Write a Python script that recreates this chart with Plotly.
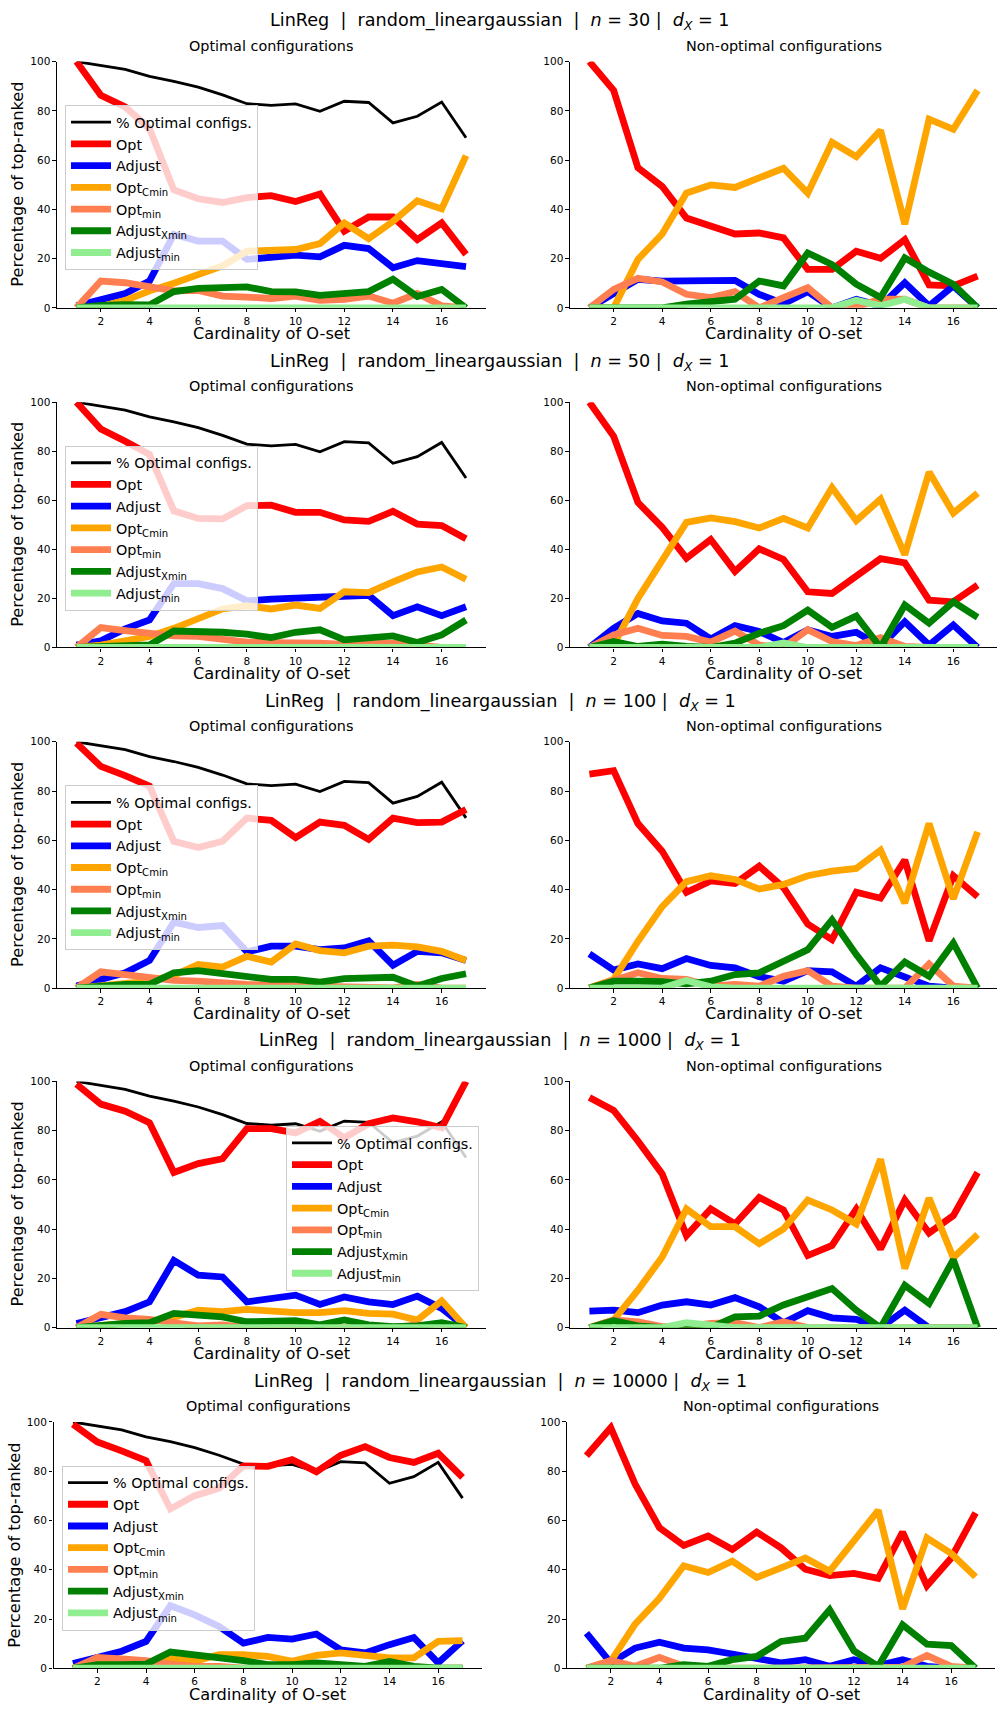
import plotly.graph_objects as go

# ---------------------------------------------------------------------------
# Data: percentage of top-ranked configurations per O-set cardinality
# ---------------------------------------------------------------------------
cardinality = list(range(1, 18))

pct_optimal_configs = [100, 98.4, 96.8, 94.0, 92.0, 89.6, 86.5, 82.9, 82.2,
                       82.8, 79.8, 83.9, 83.4, 75.1, 77.8, 83.6, 69.1]

sample_sizes = ["30", "50", "100", "1000", "10000"]

series_labels = ["Opt", "Adjust", "Opt<sub>Cmin</sub>", "Opt<sub>min</sub>",
                 "Adjust<sub>Xmin</sub>", "Adjust<sub>min</sub>"]
series_colors = ["#ff0000", "#0000ff", "#ffa500", "#ff7f50", "#008000", "#90ee90"]

# n = 30
n30_optimal_opt = [100, 86.3, 81.6, 72.8, 47.9, 44.3, 42.8, 44.8, 45.6, 43.2, 46.2, 31.1, 36.9, 36.9, 27.7, 34.5, 21.7]
n30_optimal_adjust = [0.8, 3.1, 5.8, 10.9, 29.8, 27.1, 27.1, 19.7, 20.7, 21.4, 20.7, 25.4, 24.1, 16.3, 19.2, 18.0, 16.7]
n30_optimal_optcmin = [0, 0.5, 3.0, 6.9, 10.0, 13.3, 17.0, 23.0, 23.3, 23.7, 26.1, 34.5, 28.1, 35.1, 43.5, 40.2, 61.8]
n30_optimal_optmin = [0, 10.9, 10.2, 8.2, 6.9, 7.1, 4.8, 4.4, 3.8, 4.8, 3.1, 3.5, 4.8, 1.9, 5.8, 0.8, 0]
n30_optimal_adjxmin = [0, 1.0, 1.3, 1.2, 6.6, 7.9, 8.2, 8.5, 6.6, 6.5, 5.1, 5.8, 6.6, 11.6, 4.6, 7.5, 0]
n30_optimal_adjmin = [0, 0, 0, 0, 0, 0, 0, 0, 0, 0, 0, 0.5, 0, 0, 0, 0, 0]

n30_nonopt_opt = [100, 88.3, 56.9, 49.3, 36.5, 33.1, 30.0, 30.4, 28.4, 15.6, 15.6, 23.0, 20.1, 27.7, 9.3, 8.9, 12.9]
n30_nonopt_adjust = [0, 5.5, 11.6, 10.9, 10.9, 11.3, 11.2, 5.5, 1.7, 6.6, 0, 3.5, 0.8, 10.2, 0.8, 8.9, 0]
n30_nonopt_optcmin = [0, 0, 19.7, 30.0, 46.6, 49.9, 48.9, 52.9, 56.7, 46.6, 67.2, 61.4, 72.1, 34.0, 76.6, 72.5, 88.3]
n30_nonopt_optmin = [0, 7.5, 12.0, 10.5, 5.5, 4.2, 6.6, 0, 4.2, 8.2, 0, 0.5, 3.5, 3.5, 0, 0, 0]
n30_nonopt_adjxmin = [0, 0, 0, 0, 1.5, 2.5, 3.5, 10.9, 8.9, 22.3, 17.6, 9.6, 4.2, 20.3, 14.5, 9.6, 0]
n30_nonopt_adjmin = [0, 0, 0, 0, 0, 0, 0, 0, 0, 0, 0, 3.1, 0.8, 3.5, 0, 0, 0]

# n = 50
n50_optimal_opt = [100, 89.1, 84.1, 78.7, 55.7, 52.6, 52.4, 57.8, 58.0, 55.1, 55.1, 52.0, 51.4, 55.5, 50.3, 49.7, 44.3]
n50_optimal_adjust = [1.0, 2.7, 7.6, 11.2, 26.0, 26.0, 24.0, 19.0, 19.7, 20.0, 20.6, 21.3, 21.3, 13.0, 16.6, 13.0, 16.6]
n50_optimal_optcmin = [0, 1.0, 2.7, 4.5, 7.8, 11.6, 15.7, 17.0, 15.7, 17.3, 15.9, 22.7, 22.4, 26.7, 30.8, 32.8, 27.8]
n50_optimal_optmin = [0, 8.1, 6.9, 5.8, 4.7, 4.5, 3.1, 2.2, 2.0, 2.0, 1.8, 1.3, 1.3, 1.8, 1.0, 0, 0]
n50_optimal_adjxmin = [0, 0.5, 1.0, 1.0, 6.7, 6.7, 6.2, 5.4, 4.0, 6.2, 7.2, 3.1, 4.0, 4.7, 2.0, 5.1, 11.2]
n50_optimal_adjmin = [0, 0, 0, 0, 0, 0, 0, 0, 0, 0, 0, 0, 0, 0, 0, 0, 0]

n50_nonopt_opt = [100, 86.1, 59.1, 49.0, 36.4, 44.0, 31.0, 40.2, 35.9, 22.7, 22.0, 29.4, 36.2, 34.5, 19.3, 18.6, 25.4]
n50_nonopt_adjust = [0, 7.8, 13.9, 10.8, 9.9, 3.5, 8.9, 6.5, 2.0, 7.2, 4.5, 6.2, 0.4, 10.5, 1.0, 9.2, 0]
n50_nonopt_optcmin = [0, 1.0, 20.0, 35.5, 51.0, 52.8, 51.3, 48.7, 52.6, 48.7, 65.2, 51.7, 60.5, 37.8, 71.5, 54.8, 62.9]
n50_nonopt_optmin = [0, 5.1, 7.8, 4.9, 4.5, 2.2, 6.7, 1.0, 0, 7.2, 2.4, 0.8, 4.0, 0.4, 0, 0, 0]
n50_nonopt_adjxmin = [0, 2.4, 0.4, 1.3, 0.4, 0, 1.8, 5.8, 8.9, 15.2, 8.2, 12.8, 0, 17.3, 9.9, 18.6, 12.3]
n50_nonopt_adjmin = [0, 0, 0, 0, 0, 0, 0, 0, 1.8, 0, 0, 0, 0, 0, 0, 0, 0]

# n = 100
n100_optimal_opt = [99.5, 90.0, 86.3, 82.0, 59.6, 57.1, 59.6, 69.0, 68.1, 61.1, 67.4, 66.1, 60.4, 69.0, 67.2, 67.4, 72.5]
n100_optimal_adjust = [0.8, 3.5, 6.2, 11.2, 26.8, 24.6, 25.4, 14.7, 17.0, 17.0, 15.6, 16.3, 19.2, 9.3, 14.9, 14.3, 11.2]
n100_optimal_optcmin = [0, 0.8, 1.5, 2.8, 5.2, 9.6, 8.5, 12.9, 10.6, 17.9, 15.2, 14.3, 17.0, 17.4, 16.7, 14.9, 11.2]
n100_optimal_optmin = [0, 6.6, 5.5, 4.2, 3.1, 2.8, 1.9, 1.5, 1.2, 1.1, 0.4, 0.4, 0.4, 0.1, 1.5, 0, 0]
n100_optimal_adjxmin = [0, 0.8, 1.5, 1.5, 6.2, 7.1, 5.8, 4.2, 3.5, 3.5, 2.4, 3.8, 3.9, 4.4, 0.8, 3.9, 5.8]
n100_optimal_adjmin = [0, 0, 0, 0, 0, 0, 0, 0, 0, 0, 0, 0, 0, 0, 0, 0, 0]

n100_nonopt_opt = [86.9, 88.3, 66.8, 55.6, 38.9, 43.5, 42.5, 49.5, 40.8, 26.0, 19.7, 38.9, 36.5, 52.0, 19.2, 45.6, 37.1]
n100_nonopt_adjust = [13.9, 7.3, 9.8, 7.9, 12.0, 9.2, 8.2, 4.6, 2.8, 7.1, 6.6, 0.8, 8.2, 4.2, 0.8, 0, 0]
n100_nonopt_optcmin = [0, 3.5, 19.0, 33.1, 43.2, 45.6, 44.1, 40.2, 42.1, 45.6, 47.5, 48.6, 56.0, 34.5, 66.8, 36.2, 63.4]
n100_nonopt_optmin = [0, 2.8, 6.2, 3.9, 3.5, 0.8, 1.5, 0.8, 4.8, 7.1, 0.8, 0, 0, 0, 9.8, 0.8, 0]
n100_nonopt_adjxmin = [0, 2.8, 2.8, 2.6, 1.7, 2.8, 5.5, 6.2, 10.9, 15.6, 27.7, 13.6, 0.8, 10.6, 4.8, 18.3, 0]
n100_nonopt_adjmin = [0, 0, 0, 0, 3.1, 0.5, 0, 0, 0, 0, 0, 0, 0, 0, 0, 0, 0]

# n = 1000
n1000_optimal_opt = [98.9, 90.8, 87.9, 83.2, 63.0, 66.6, 68.6, 80.8, 80.8, 79.1, 83.8, 77.1, 82.8, 85.2, 83.6, 81.2, 100]
n1000_optimal_adjust = [1.7, 4.0, 6.5, 10.5, 27.3, 21.3, 20.6, 10.5, 11.8, 13.2, 9.4, 12.5, 10.5, 9.4, 12.8, 7.8, 0]
n1000_optimal_optcmin = [0, 1.1, 1.7, 2.4, 4.2, 7.1, 6.5, 7.4, 6.5, 6.1, 6.1, 6.9, 5.8, 5.5, 3.1, 10.9, 0]
n1000_optimal_optmin = [0, 5.4, 4.0, 3.4, 2.0, 0.7, 1.1, 0, 0, 0, 0, 0, 0, 0, 1.1, 0, 0]
n1000_optimal_adjxmin = [0, 1.1, 1.7, 2.0, 5.8, 5.1, 4.4, 2.4, 2.4, 2.8, 1.1, 3.1, 1.1, 0.4, 0.7, 2.0, 0]
n1000_optimal_adjmin = [0, 0, 0, 0, 0, 0, 0, 0, 0, 0, 0, 0, 0, 0, 0, 0, 0]

n1000_nonopt_opt = [93.5, 88.2, 75.8, 62.4, 37.4, 48.2, 42.1, 52.9, 47.8, 29.3, 33.4, 48.2, 32.0, 51.8, 38.4, 45.5, 63.0]
n1000_nonopt_adjust = [6.7, 7.1, 6.1, 9.2, 10.5, 9.2, 12.2, 8.5, 2.0, 6.9, 4.0, 3.4, 0, 7.1, 0, 0, 0]
n1000_nonopt_optcmin = [0, 3.1, 15.2, 28.7, 48.2, 41.0, 41.0, 34.1, 40.1, 51.8, 47.8, 42.1, 68.4, 24.0, 52.6, 28.4, 37.8]
n1000_nonopt_optmin = [0, 3.1, 2.4, 0.4, 0.5, 1.7, 2.0, 0, 2.4, 0, 0, 0, 0, 0, 0, 0, 0]
n1000_nonopt_adjxmin = [0, 2.8, 0.7, 0, 0, 0, 4.4, 4.7, 9.2, 12.2, 15.9, 7.1, 0, 17.2, 9.8, 27.6, 0]
n1000_nonopt_adjmin = [0, 0, 0, 0, 2.0, 1.0, 0, 0, 0, 0, 0, 0, 0, 0, 0, 0, 0]

# n = 10000
n10000_optimal_opt = [99.1, 91.9, 88.3, 84.3, 64.7, 70.1, 73.1, 82.2, 82.0, 84.7, 79.8, 86.5, 90.0, 85.6, 83.6, 87.3, 77.5]
n10000_optimal_adjust = [1.9, 4.2, 6.9, 10.9, 25.4, 21.7, 17.0, 10.2, 12.5, 11.8, 13.9, 7.5, 6.2, 9.6, 12.5, 2.2, 11.2]
n10000_optimal_optcmin = [0, 2.2, 1.7, 1.7, 3.9, 2.8, 5.5, 5.5, 4.8, 2.8, 5.2, 6.2, 5.2, 4.2, 4.2, 10.9, 11.2]
n10000_optimal_optmin = [0, 4.4, 3.8, 3.1, 1.7, 0.8, 0.8, 0, 0, 0, 0, 0, 0, 0, 0, 0, 0]
n10000_optimal_adjxmin = [0, 1.5, 1.5, 1.7, 6.6, 5.5, 4.8, 3.1, 1.5, 1.5, 2.2, 1.2, 0.8, 2.8, 0.8, 0, 0]
n10000_optimal_adjmin = [0, 0, 0, 0, 0, 0, 0, 0, 0, 0, 0, 0, 0, 0, 0, 0, 0]

n10000_nonopt_opt = [86.3, 97.7, 74.8, 57.1, 49.9, 53.7, 48.2, 55.3, 48.9, 40.2, 37.6, 38.5, 36.5, 55.3, 33.5, 44.8, 63.1]
n10000_nonopt_adjust = [14.3, 2.2, 8.2, 10.6, 8.2, 7.5, 5.8, 3.9, 2.2, 3.5, 0.8, 3.5, 1.1, 3.5, 0.8, 0, 0]
n10000_nonopt_optcmin = [0, 2.8, 17.9, 28.4, 41.6, 38.9, 43.5, 36.9, 40.8, 44.8, 39.4, 52.0, 64.1, 24.1, 52.9, 46.6, 37.1]
n10000_nonopt_optmin = [0, 3.1, 0.8, 4.4, 0.8, 0, 0, 0, 0, 0, 0, 0, 0, 0.5, 5.2, 0.8, 0]
n10000_nonopt_adjxmin = [0, 0, 0, 0, 1.5, 0.8, 3.5, 4.8, 10.9, 12.2, 23.7, 7.1, 0.8, 17.6, 9.8, 9.2, 0]
n10000_nonopt_adjmin = [0, 0, 0, 0, 0, 0, 0, 0, 0, 0, 0, 0, 0, 0, 0, 0, 0]

optimal_panels = [
    [n30_optimal_opt, n30_optimal_adjust, n30_optimal_optcmin, n30_optimal_optmin, n30_optimal_adjxmin, n30_optimal_adjmin],
    [n50_optimal_opt, n50_optimal_adjust, n50_optimal_optcmin, n50_optimal_optmin, n50_optimal_adjxmin, n50_optimal_adjmin],
    [n100_optimal_opt, n100_optimal_adjust, n100_optimal_optcmin, n100_optimal_optmin, n100_optimal_adjxmin, n100_optimal_adjmin],
    [n1000_optimal_opt, n1000_optimal_adjust, n1000_optimal_optcmin, n1000_optimal_optmin, n1000_optimal_adjxmin, n1000_optimal_adjmin],
    [n10000_optimal_opt, n10000_optimal_adjust, n10000_optimal_optcmin, n10000_optimal_optmin, n10000_optimal_adjxmin, n10000_optimal_adjmin],
]
nonopt_panels = [
    [n30_nonopt_opt, n30_nonopt_adjust, n30_nonopt_optcmin, n30_nonopt_optmin, n30_nonopt_adjxmin, n30_nonopt_adjmin],
    [n50_nonopt_opt, n50_nonopt_adjust, n50_nonopt_optcmin, n50_nonopt_optmin, n50_nonopt_adjxmin, n50_nonopt_adjmin],
    [n100_nonopt_opt, n100_nonopt_adjust, n100_nonopt_optcmin, n100_nonopt_optmin, n100_nonopt_adjxmin, n100_nonopt_adjmin],
    [n1000_nonopt_opt, n1000_nonopt_adjust, n1000_nonopt_optcmin, n1000_nonopt_optmin, n1000_nonopt_adjxmin, n1000_nonopt_adjmin],
    [n10000_nonopt_opt, n10000_nonopt_adjust, n10000_nonopt_optcmin, n10000_nonopt_optmin, n10000_nonopt_adjxmin, n10000_nonopt_adjmin],
]

# ---------------------------------------------------------------------------
# Page geometry (pixels from the top-left corner of the page)
# ---------------------------------------------------------------------------
W, H = 997, 1711
FONT = "DejaVu Sans"

row_top = [56, 399, 741, 1083, 1426]
row_bottom = [304, 646, 989, 1331, 1674]
left_span = [(57, 485.5)] * 4 + [(53.5, 482)]
right_span = [(570, 997)] * 4 + [(567, 995)]
legend_corner = [(65, 100), (65, 443), (65, 785), (286, 1128), (62, 1470)]


def fx(px):
    return px / W


def fy(px):
    return 1 - px / H


fig = go.Figure()
annotations = []
layout_axes = {}

for r in range(5):
    legend_id = "legend" if r == 0 else f"legend{r + 1}"
    for c in range(2):
        idx = r * 2 + c + 1
        xa = "x" if idx == 1 else f"x{idx}"
        ya = "y" if idx == 1 else f"y{idx}"
        span = left_span[r] if c == 0 else right_span[r]

        if c == 0:
            fig.add_trace(go.Scatter(
                x=cardinality, y=pct_optimal_configs, mode="lines",
                name="% Optimal configs.", line=dict(color="black", width=2.8),
                xaxis=xa, yaxis=ya, legend=legend_id, showlegend=True,
            ))
        panel = optimal_panels[r] if c == 0 else nonopt_panels[r]
        for values, label, color in zip(panel, series_labels, series_colors):
            fig.add_trace(go.Scatter(
                x=cardinality, y=values, mode="lines", name=label,
                line=dict(color=color, width=6.8),
                xaxis=xa, yaxis=ya, legend=legend_id, showlegend=(c == 0),
            ))

        common = dict(
            showline=True, linecolor="black", linewidth=1.1, mirror=False,
            ticks="outside", ticklen=3.5, tickwidth=1.1, tickcolor="black",
            showgrid=False, zeroline=False,
            tickfont=dict(family=FONT, size=10.5, color="black"),
        )
        layout_axes["xaxis" if idx == 1 else f"xaxis{idx}"] = dict(
            domain=[fx(span[0]), fx(span[1])], anchor=ya,
            range=[0.2, 17.8], tickmode="array", tickvals=list(range(2, 17, 2)),
            **common,
        )
        layout_axes["yaxis" if idx == 1 else f"yaxis{idx}"] = dict(
            domain=[fy(row_bottom[r]), fy(row_top[r])], anchor=xa,
            range=[0, 100], tickmode="array", tickvals=list(range(0, 101, 20)),
            **common,
        )

        # panel subtitle and axis titles
        mid = (span[0] + span[1]) / 2
        annotations.append(dict(
            text="Optimal configurations" if c == 0 else "Non-optimal configurations",
            x=fx(mid), y=fy(row_top[r] - 16), xref="paper", yref="paper",
            xanchor="center", yanchor="middle", showarrow=False,
            font=dict(family=FONT, size=14.4, color="black"),
        ))
        annotations.append(dict(
            text="Cardinality of O-set",
            x=fx(mid), y=fy(row_bottom[r] + 26), xref="paper", yref="paper",
            xanchor="center", yanchor="middle", showarrow=False,
            font=dict(family=FONT, size=16.2, color="black"),
        ))
        if c == 0:
            annotations.append(dict(
                text="Percentage of top-ranked",
                x=fx(span[0] - 39), y=fy((row_top[r] + row_bottom[r]) / 2),
                xref="paper", yref="paper", textangle=-90,
                xanchor="center", yanchor="middle", showarrow=False,
                font=dict(family=FONT, size=16.2, color="black"),
            ))

    # row title
    nb = "\u00a0"
    title = (f"LinReg{nb}{nb}|{nb}{nb}random_lineargaussian{nb}{nb}|{nb}{nb}"
             f"<i>n</i>{nb}={nb}{sample_sizes[r]}{nb}|{nb}{nb}"
             f"<i>d</i><sub><i>X</i></sub>{nb}={nb}1")
    annotations.append(dict(
        text=title, x=fx(500), y=fy(row_top[r] - 40), xref="paper", yref="paper",
        xanchor="center", yanchor="middle", showarrow=False,
        font=dict(family=FONT, size=17.6, color="black"),
    ))

    lx, ly = legend_corner[r]
    layout_axes[legend_id] = dict(
        x=fx(lx), y=fy(ly), xanchor="left", yanchor="top",
        bgcolor="rgba(255,255,255,0.8)", bordercolor="#cccccc", borderwidth=1,
        font=dict(family=FONT, size=14.4, color="black"),
        traceorder="normal", itemwidth=40,
    )

fig.update_layout(
    width=W, height=H,
    margin=dict(l=0, r=0, t=0, b=0),
    paper_bgcolor="white", plot_bgcolor="white",
    annotations=annotations,
    **layout_axes,
)

fig.write_html("out.html")
